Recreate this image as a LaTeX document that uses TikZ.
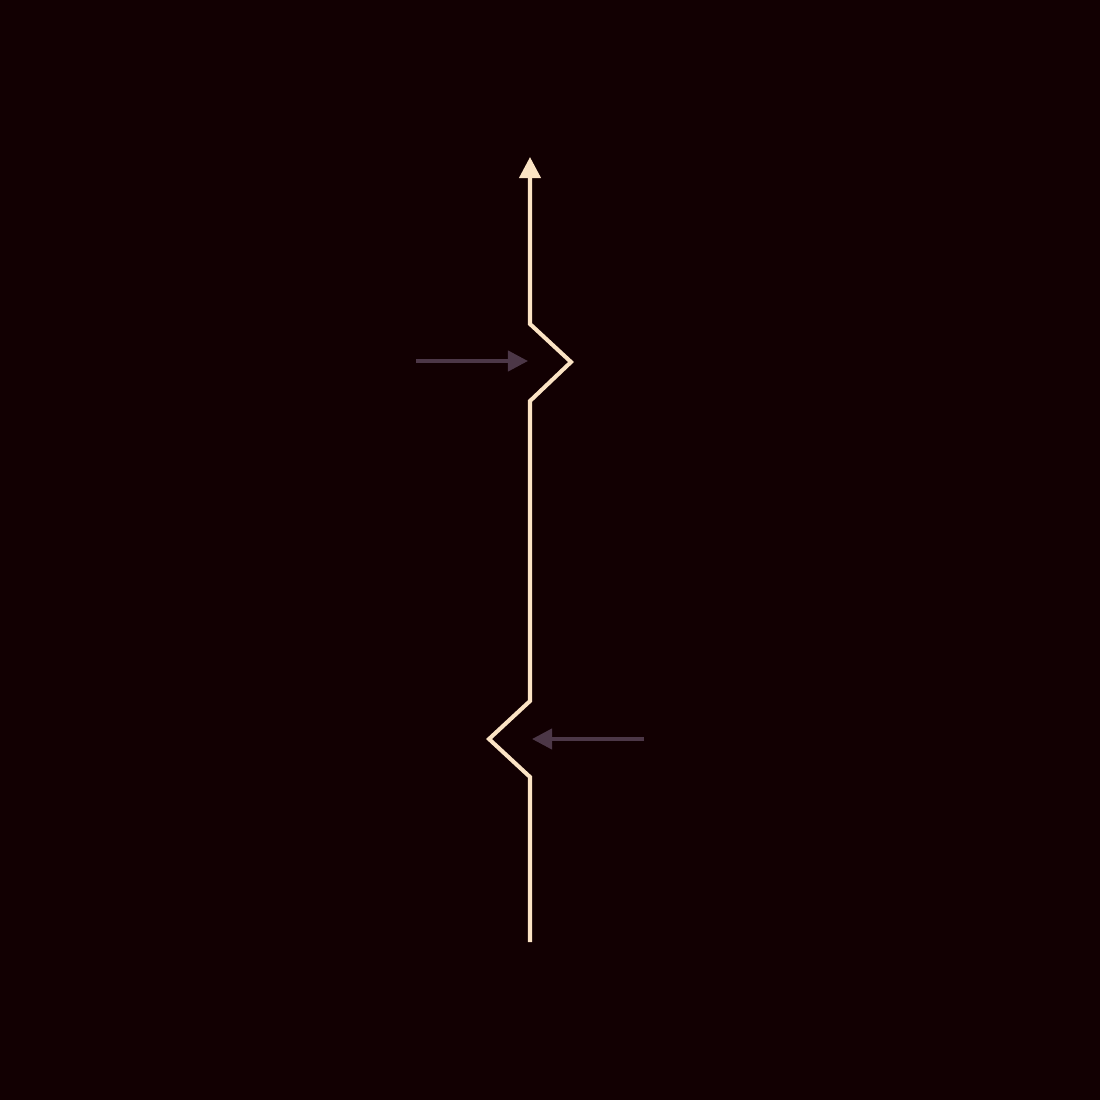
\documentclass[tikz,border=0pt]{standalone}
\usetikzlibrary{arrows.meta}
\definecolor{bg}{HTML}{120002}
\definecolor{wire}{HTML}{FBE3C4}
\definecolor{push}{HTML}{4C3747}

\begin{document}
\begin{tikzpicture}[x=0.01cm,y=-0.01cm,
    path/.style={draw=wire,line width=1.15pt,line join=miter},
    force/.style={draw=push,line width=1.15pt,-{Triangle[length=2mm,width=2mm]}}]
      \fill[bg] (0,0) rectangle (1100,1100);
      \useasboundingbox (0,0) rectangle (1100,1100);

      \coordinate (start) at (530,942);
      \coordinate (low1) at (530,777);
      \coordinate (low2) at (489,739);
      \coordinate (low3) at (530,701);
      \coordinate (high1) at (530,401);
      \coordinate (high2) at (571,362);
      \coordinate (high3) at (530,324);
      \coordinate (end) at (530,157);
      \coordinate (inA) at (416,361);
      \coordinate (tipA) at (528,361);
      \coordinate (inB) at (644,739);
      \coordinate (tipB) at (532,739);

      \draw[path,-{Triangle[length=2.1mm,width=2.1mm]}] (start) -- (low1) -- (low2) -- (low3) -- (high1) -- (high2) -- (high3) -- (end);
      \draw[force] (inA) -- (tipA);
      \draw[force] (inB) -- (tipB);
    \end{tikzpicture}
\end{document}
